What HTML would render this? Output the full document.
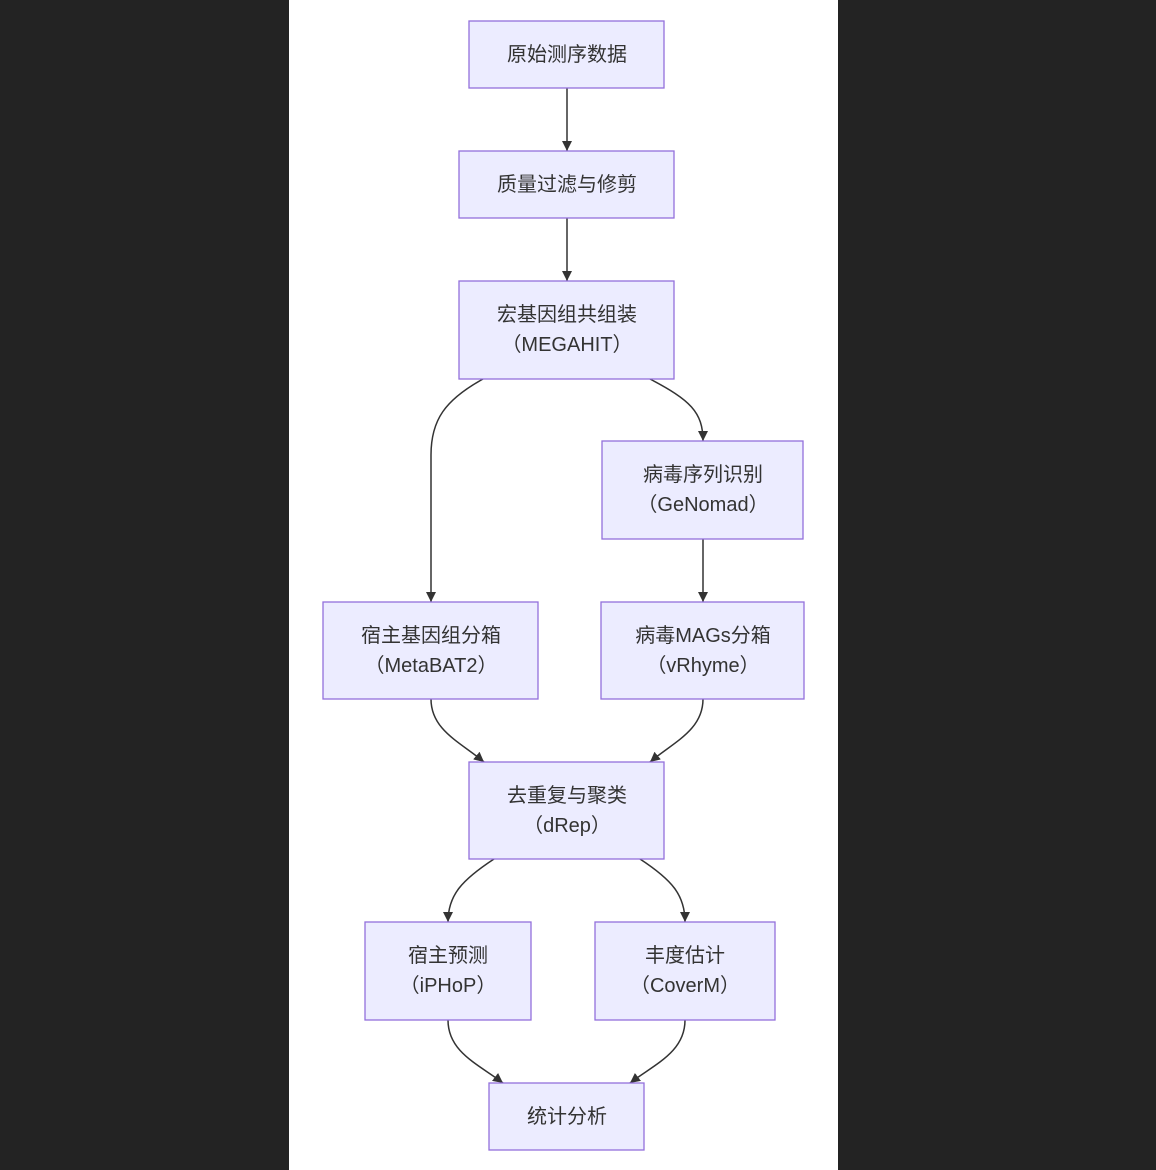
<!DOCTYPE html>
<html><head><meta charset="utf-8"><style>
html,body{margin:0;padding:0;background:#232323;}
svg{display:block;}
text{font-family:"Liberation Sans","Noto Sans CJK SC",sans-serif;font-size:20px;fill:#333;text-anchor:middle;}
.n{fill:#ECECFF;stroke:#9370DB;stroke-width:1.3;}
.e{fill:none;stroke:#333;stroke-width:1.5;}
</style></head><body>
<svg width="1156" height="1170" viewBox="0 0 1156 1170">
<defs><marker id="a" viewBox="0 0 10 10" refX="10" refY="5" markerWidth="10" markerHeight="10" markerUnits="userSpaceOnUse" orient="auto"><path d="M0,0L10,5L0,10z" fill="#333"/></marker></defs>
<rect x="0" y="0" width="1156" height="1170" fill="#232323"/>
<rect x="289" y="0" width="549" height="1170" fill="#fff"/>
<g class="e" marker-end="url(#a)">
<path d="M567,88L567,151"/>
<path d="M567,218L567,281"/>
<path d="M483,379C445,400 431,420 431,455L431,602"/>
<path d="M650,379C690,400 703,412 703,441"/>
<path d="M703,539L703,602"/>
<path d="M431,699C431,730 460,742 484,762"/>
<path d="M703,699C703,730 674,742 650,762"/>
<path d="M494,859C462,880 448,895 448,922"/>
<path d="M640,859C672,880 685,895 685,922"/>
<path d="M448,1020C448,1052 478,1064 503,1083"/>
<path d="M685,1020C685,1052 655,1064 630,1083"/>
</g>
<rect class="n" x="469" y="21" width="195" height="67"/>
<text x="567" y="61">原始测序数据</text>
<rect class="n" x="459" y="151" width="215" height="67"/>
<text x="567" y="191">质量过滤与修剪</text>
<rect class="n" x="459" y="281" width="215" height="98"/>
<text x="567" y="321">宏基因组共组装</text><text x="567" y="351">（MEGAHIT）</text>
<rect class="n" x="602" y="441" width="201" height="98"/>
<text x="703" y="481">病毒序列识别</text><text x="703" y="511">（GeNomad）</text>
<rect class="n" x="323" y="602" width="215" height="97"/>
<text x="431" y="642">宿主基因组分箱</text><text x="431" y="672">（MetaBAT2）</text>
<rect class="n" x="601" y="602" width="203" height="97"/>
<text x="703" y="642">病毒MAGs分箱</text><text x="703" y="672">（vRhyme）</text>
<rect class="n" x="469" y="762" width="195" height="97"/>
<text x="567" y="802">去重复与聚类</text><text x="567" y="832">（dRep）</text>
<rect class="n" x="365" y="922" width="166" height="98"/>
<text x="448" y="962">宿主预测</text><text x="448" y="992">（iPHoP）</text>
<rect class="n" x="595" y="922" width="180" height="98"/>
<text x="685" y="962">丰度估计</text><text x="685" y="992">（CoverM）</text>
<rect class="n" x="489" y="1083" width="155" height="67"/>
<text x="567" y="1123">统计分析</text>
</svg>
</body></html>
